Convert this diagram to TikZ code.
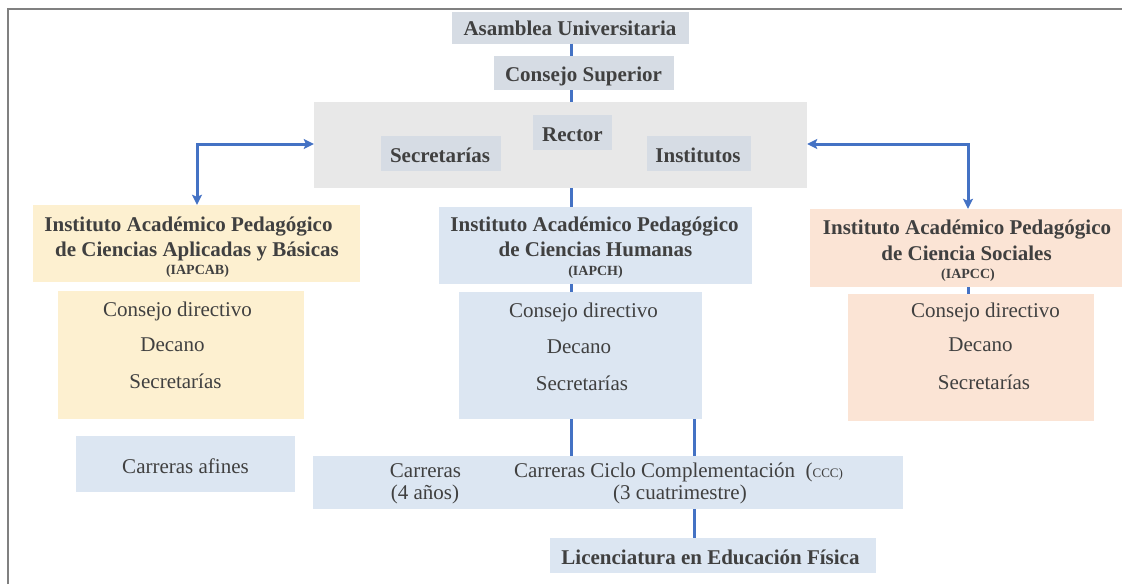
\documentclass[tikz,border=0pt]{standalone}
\usepackage{fontspec}
\setmainfont{LiberationSerif}[Extension=.ttf,UprightFont=*-Regular,BoldFont=*-Bold,ItalicFont=*-Italic,BoldItalicFont=*-BoldItalic]
\usetikzlibrary{arrows.meta}
\definecolor{tc}{HTML}{404040}
\definecolor{cblue}{HTML}{4472C4}
\definecolor{topfill}{HTML}{D6DCE4}
\definecolor{bigfill}{HTML}{E8E8E8}
\definecolor{yelfill}{HTML}{FDF0D0}
\definecolor{bluefill}{HTML}{DCE6F2}
\definecolor{peachfill}{HTML}{FBE4D5}
\definecolor{framec}{HTML}{808080}
\begin{document}
\begin{tikzpicture}[x=1pt,y=-1pt,
  boxx/.style={rectangle,draw=none,inner sep=0pt},
  tx/.style={text=tc,font=\fontsize{21}{25}\selectfont,inner sep=0pt,anchor=base},
  txb/.style={text=tc,font=\fontsize{21}{25}\selectfont\bfseries,inner sep=0pt,anchor=base},
  txs/.style={text=tc,font=\fontsize{14}{16}\selectfont\bfseries,inner sep=0pt,anchor=base},
  conn/.style={draw=cblue,line width=3pt},
  arr/.style={draw=cblue,line width=3pt,{Stealth[length=10pt,width=10pt,inset=2pt]}-{Stealth[length=10pt,width=10pt,inset=2pt]}},
  framel/.style={draw=framec,line width=2pt}
]
\useasboundingbox (0,0) rectangle (1122,584);
\draw[framel] (8,584) -- (8,9) -- (1122,9);

% top chain
\node[boxx,fill=topfill,minimum width=237pt,minimum height=32pt] (asam) at (570.5,27.5) {};
\node[boxx,fill=topfill,minimum width=180pt,minimum height=34pt] (cons) at (584,73) {};
\node[boxx,fill=bigfill,minimum width=493pt,minimum height=86pt] (big) at (560.5,145) {};
\node[boxx,fill=topfill,minimum width=79pt,minimum height=35pt] (rect) at (572.5,132.5) {};
\node[boxx,fill=topfill,minimum width=120pt,minimum height=35pt] (secr) at (441,153.5) {};
\node[boxx,fill=topfill,minimum width=104pt,minimum height=35pt] (inst) at (699,153.5) {};

\node[txb] (tasam) at (570,35.5) {Asamblea Universitaria};
\node[txb] (tcons) at (583.5,81.5) {Consejo Superior};
\node[txb] (trect) at (572.5,141.5) {Rector};
\node[txb] (tsecr) at (440,162.5) {Secretarías};
\node[txb] (tinst) at (698,162.5) {Institutos};

% institutes
\node[boxx,fill=yelfill,minimum width=327pt,minimum height=77pt] (iapcab) at (196.5,243.5) {};
\node[boxx,fill=yelfill,minimum width=246pt,minimum height=128pt] (iapcabsub) at (181,355) {};
\node[boxx,fill=bluefill,minimum width=219pt,minimum height=56pt] (afines) at (185.5,464) {};
\node[boxx,fill=bluefill,minimum width=313pt,minimum height=77pt] (iapch) at (595.5,245.5) {};
\node[boxx,fill=bluefill,minimum width=243pt,minimum height=127pt] (iapchsub) at (580.5,355.5) {};
\node[boxx,fill=bluefill,minimum width=590pt,minimum height=53pt] (carr) at (608,482.5) {};
\node[boxx,fill=bluefill,minimum width=326pt,minimum height=35pt] (lic) at (713,555.5) {};
\node[boxx,fill=peachfill,minimum width=312pt,minimum height=78pt] (iapcc) at (966,248) {};
\node[boxx,fill=peachfill,minimum width=246pt,minimum height=127pt] (iapccsub) at (971,357.5) {};

% IAPCAB texts
\node[txb] (a1) at (188.5,231) {Instituto Académico Pedagógico};
\node[txb] (a2) at (197,256) {de Ciencias Aplicadas y Básicas};
\node[txs] (a3) at (197.5,274.5) {(IAPCAB)};
\node[tx] (a4) at (177.5,316) {Consejo directivo};
\node[tx] (a5) at (172.5,351) {Decano};
\node[tx] (a6) at (175.5,388) {Secretarías};
\node[tx] (a7) at (185.5,473) {Carreras afines};

% IAPCH texts
\node[txb] (h1) at (594.5,231) {Instituto Académico Pedagógico};
\node[txb] (h2) at (595.5,256) {de Ciencias Humanas};
\node[txs] (h3) at (595.5,275) {(IAPCH)};
\node[tx] (h4) at (583.5,317) {Consejo directivo};
\node[tx] (h5) at (579,353) {Decano};
\node[tx] (h6) at (582,390) {Secretarías};

% IAPCC texts
\node[txb] (s1) at (967,234) {Instituto Académico Pedagógico};
\node[txb] (s2) at (966.5,260) {de Ciencia Sociales};
\node[txs] (s3) at (968,278) {(IAPCC)};
\node[tx] (s4) at (985.5,317) {Consejo directivo};
\node[tx] (s5) at (980.5,351) {Decano};
\node[tx] (s6) at (984,389) {Secretarías};

% carreras bar
\node[tx] (c1) at (425.5,477) {Carreras};
\node[tx] (c2) at (425,499) {(4 años)};
\node[tx] (c3) at (678.5,477) {Carreras Ciclo Complementación\ \ ({\fontsize{13}{13}\selectfont CCC)}};
\node[tx] (c4) at (680,499) {(3 cuatrimestre)};
\node[txb] (l1) at (710.5,564) {Licenciatura en Educación Física};

% connectors
\coordinate (mx) at (571,0);
\coordinate (px) at (694,0);
\coordinate (qx) at (968,0);
\draw[conn] (mx |- asam.south) -- (mx |- cons.north);
\draw[conn] (mx |- cons.south) -- (mx |- big.north);
\draw[conn] (mx |- big.south) -- (mx |- iapch.north);
\draw[conn] (mx |- iapch.south) -- (mx |- iapchsub.north);
\draw[conn] (mx |- iapchsub.south) -- (mx |- carr.north);
\draw[conn] (px |- iapchsub.south) -- (px |- carr.north);
\draw[conn] (px |- carr.south) -- (px |- lic.north);
\draw[conn] (qx |- iapcc.south) -- (qx |- iapccsub.north);

\coordinate (la) at (197,144);
\coordinate (ra) at (968,144);
\draw[arr] (big.west |- la) -- (la) -- (la |- iapcab.north);
\draw[arr] (big.east |- ra) -- (ra) -- (ra |- iapcc.north);
\end{tikzpicture}
\end{document}
